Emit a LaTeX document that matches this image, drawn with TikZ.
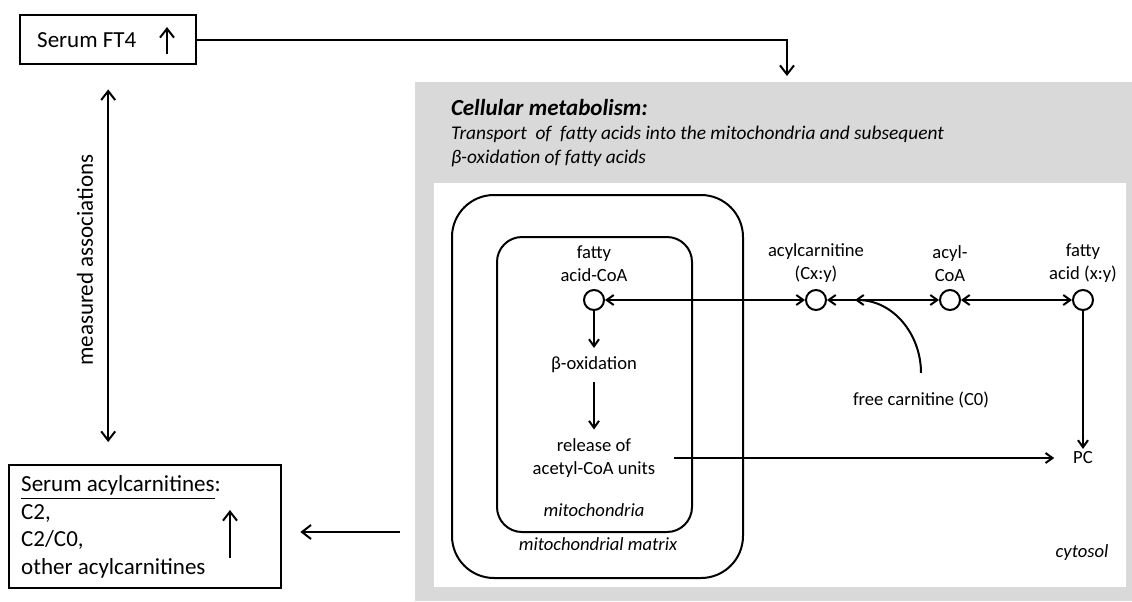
\documentclass[tikz,border=0pt]{standalone}
\usepackage{fontspec}
\setmainfont{Carlito}
\usetikzlibrary{arrows.meta,positioning}
\definecolor{cellgray}{HTML}{D9D9D9}

\tikzset{
  big/.tip={Straight Barb[length=4.5pt,width=7pt]},
  sb/.tip={Straight Barb[length=3.5pt,width=5pt]},
  box/.style={draw, rectangle, line width=1.2pt, inner sep=0pt, align=left},
  molec/.style={draw, circle, minimum size=10pt, inner sep=0pt},
  lbl/.style={font=\fontsize{9.3}{11.5}\selectfont, align=center, inner sep=0pt},
  stage/.style={lbl, inner sep=4pt},
  region/.style={lbl, font=\itshape\fontsize{9.3}{11.5}\selectfont},
}

\begin{document}
\begin{tikzpicture}[x=0.5pt, y=-0.5pt, line width=1pt,
  every node/.append style={font=\fontsize{11.5}{13.8}\selectfont}]
\useasboundingbox (0,0) rectangle (1132,601); %Tamanho da figura
	%Compartimentos
\fill[cellgray] (415,82) rectangle (1132,601); %Caixa cinza
\fill[white] (434,183) rectangle (1126,587); %Citosol
\draw[rounded corners=21pt] (452,195) rectangle (743,578); %Matriz mitocondrial
\draw[rounded corners=12.5pt] (497,237) rectangle (692,532); %Mitocondria
	%Textos da caixa cinza
\node[anchor=base west, inner sep=0pt, font=\bfseries\itshape\fontsize{11.5}{13.8}\selectfont] (title) at (450,115) {Cellular metabolism:};
\node[anchor=base west, inner sep=0pt, font=\itshape\fontsize{9.7}{12}\selectfont] (sub1) at (450,139) {Transport\ \ of\ \ fatty acids into the mitochondria and subsequent};
\node[anchor=base west, inner sep=0pt, font=\itshape\fontsize{9.7}{12}\selectfont] (sub2) at (450,163) {β-oxidation of fatty acids};
	%Caixas do soro
\node[box, anchor=north west, minimum width=88pt, minimum height=24.5pt, text width=71pt, inner xsep=8.5pt] (ft4) at (19,14) {\spaceskip=0pt\relax Serum FT4};
\draw[big-] (167,27) -- (167,54); %Seta de aumento FT4
\node[box, anchor=north west, minimum width=136pt, minimum height=61.5pt, text width=124pt, inner xsep=6pt] (acyl) at (8,464) {\spaceskip=0pt\relax\underline{Serum acylcarnitines}:\\C2,\\C2/C0,\\other acylcarnitines};
\draw[big-] (230,510) -- (230,558); %Seta de aumento acilcarnitinas
	%Ligacoes externas
\coordinate (cellin) at (787,76);
\coordinate (cellout) at (400,532);
\draw[-big] (ft4.east) -| (cellin);
\draw[-big, shorten >=9pt] (cellout) -- (cellout -| acyl.east);
\draw[big-big, shorten <=12pt, shorten >=11pt] (ft4.south) -- (ft4.south |- acyl.north);
\node[rotate=90, inner sep=0pt] (assoc) at (85,260) {measured associations};
	%Metabolitos
\node[molec] (fac) at (594,300) {};
\node[molec] (acn) at (816,300) {};
\node[molec] (acoa) at (950,300) {};
\node[molec] (fa) at (1083,300) {};
\node[lbl, above=3pt of fac] (faclbl) {fatty\\acid-CoA};
\node[lbl, above=3pt of acn] (acnlbl) {acylcarnitine\\(Cx:y)};
\node[lbl, above=3pt of acoa] (acoalbl) {acyl-\\CoA};
\node[lbl, above=3pt of fa] (falbl) {fatty\\acid (x:y)};
\draw[sb-sb] (fac) -- (acn);
\draw[sb-sb] (acn) -- (acoa);
\draw[sb-sb] (acoa) -- (fa);
	%Carnitina livre
\node[lbl] (frc) at (921,400) {free carnitine (C0)};
\coordinate (frcin) at (855,300);
\draw[-sb] ([yshift=9pt]frc.north) to[out=90, in=0] (frcin);
	%Beta-oxidacao
\node[stage] (box) at (594,365) {β-oxidation};
\node[stage] (rel) at (594,458) {release of\\acetyl-CoA units};
\node[lbl, inner sep=1pt] (pc) at (1083,458) {PC};
\draw[-sb] (fac) -- (box);
\draw[-sb] (box) -- (rel);
\draw[-sb, shorten <=5pt, shorten >=8pt] (rel.east) -- (pc.west);
\draw[-sb] (fa) -- (pc);
	%Nomes dos compartimentos
\node[region] (mito) at (594,510) {mitochondria};
\node[region] (matrix) at (598,544) {mitochondrial matrix};
\node[region] (cyto) at (1082,553) {cytosol};
\end{tikzpicture}
\end{document}
